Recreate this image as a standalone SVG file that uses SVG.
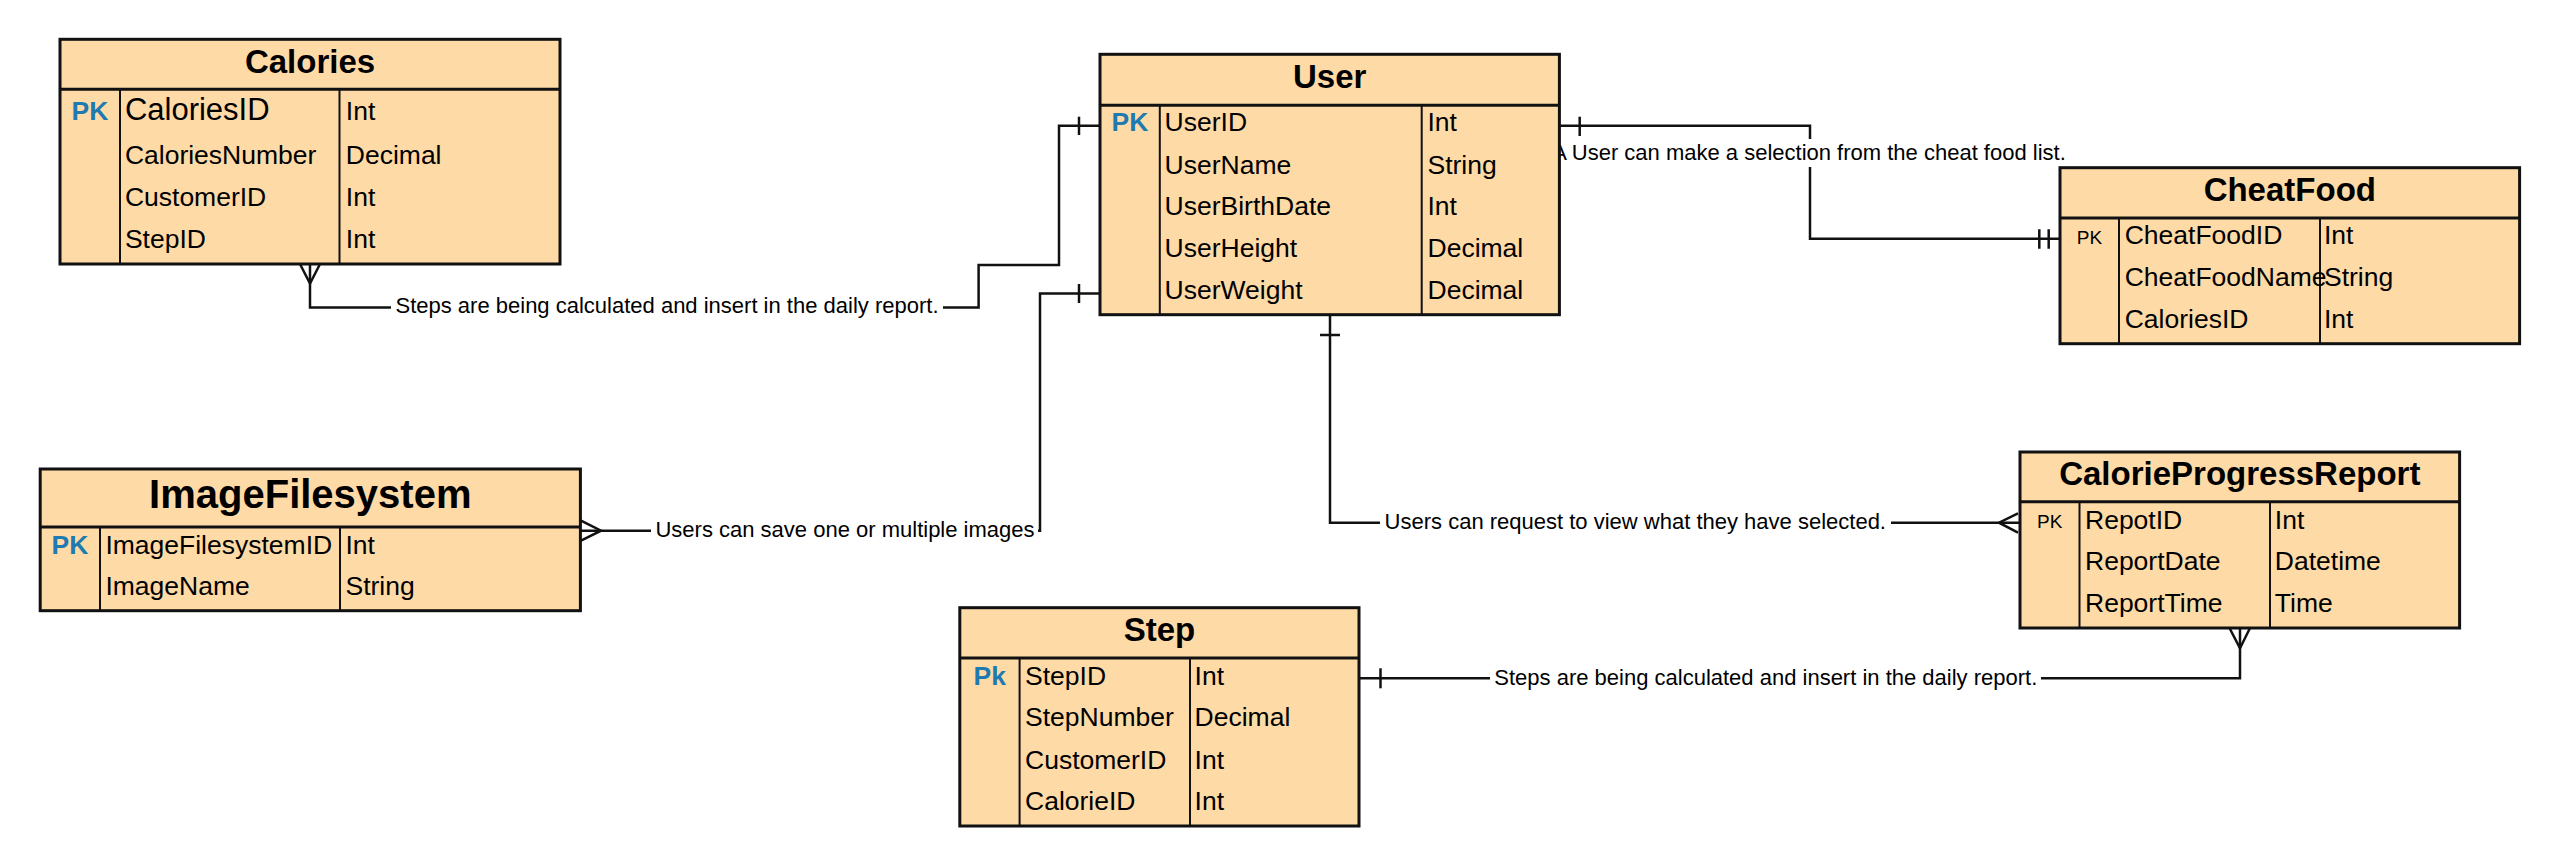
<svg xmlns="http://www.w3.org/2000/svg" width="2560" height="866" viewBox="0 0 2560 866">
<style>
.box{fill:#FEDAA7;stroke:#111;stroke-width:3}
.hd{stroke:#111;stroke-width:3;fill:none}
.dv{stroke:#111;stroke-width:2;fill:none}
.t{font-family:"Liberation Sans",Arial,sans-serif;font-weight:bold;font-size:33px;fill:#000;text-anchor:middle}
.f{font-family:"Liberation Sans",Arial,sans-serif;font-size:26.5px;fill:#000}
.pk{font-family:"Liberation Sans",Arial,sans-serif;font-weight:bold;font-size:26.5px;fill:#1E7AB0;text-anchor:middle}
.pks{font-family:"Liberation Sans",Arial,sans-serif;font-size:19px;fill:#000;text-anchor:middle}
.ln{stroke:#111;stroke-width:2.5;fill:none}
.lb{font-family:"Liberation Sans",Arial,sans-serif;font-size:22px;fill:#000;text-anchor:middle}
.bg{fill:#fff}
</style>
<rect width="2560" height="866" fill="#fff"/>
<g id="connectors">
  <!-- Calories - User -->
  <path class="ln" d="M310,264 L310,307.5 L978.6,307.5 L978.6,265 L1059,265 L1059,125.7 L1100,125.7"/>
  <path class="ln" d="M300,264 L310,283.5 L320,264"/>
  <path class="ln" d="M1079,116.7 V135"/>
  <rect class="bg" x="391" y="294" width="552" height="26"/>
  <text class="lb" x="667" y="313">Steps are being calculated and insert in the daily report.</text>
  <!-- ImageFilesystem - User -->
  <path class="ln" d="M580,530.7 L1040,530.7 L1040,293.5 L1100,293.5"/>
  <path class="ln" d="M581,520.7 L601,530.7 L581,540.7"/>
  <path class="ln" d="M1079,284 V303"/>
  <rect class="bg" x="651" y="516" width="387" height="28"/>
  <text class="lb" x="845" y="536.6">Users can save one or multiple images</text>
  <!-- User - CheatFood -->
  <path class="ln" d="M1559.4,125.7 L1810,125.7 L1810,238.7 L2060,238.7"/>
  <path class="ln" d="M1579.7,116.7 V136"/>
  <path class="ln" d="M2039.3,229.3 V248.7 M2048.7,229.3 V248.7"/>
  <rect class="bg" x="1549" y="139" width="520" height="28"/>
  <text class="lb" x="1809" y="159.6">A User can make a selection from the cheat food list.</text>
  <!-- User - CalorieProgressReport -->
  <path class="ln" d="M1330,314.5 L1330,522.7 L2020,522.7"/>
  <path class="ln" d="M1320,335 H1340"/>
  <path class="ln" d="M2018,513.3 L1999,522.7 L2018,532.7"/>
  <rect class="bg" x="1380" y="508" width="511" height="28"/>
  <text class="lb" x="1635.3" y="528.6">Users can request to view what they have selected.</text>
  <!-- Step - CalorieProgressReport -->
  <path class="ln" d="M1359,678.3 L2240,678.3 L2240,628"/>
  <path class="ln" d="M1380.5,668.3 V688.3"/>
  <path class="ln" d="M2229.5,628 L2240,648.3 L2250,628"/>
  <rect class="bg" x="1490" y="664" width="551" height="28"/>
  <text class="lb" x="1765.8" y="684.6">Steps are being calculated and insert in the daily report.</text>
</g>
<g id="calories">
  <rect class="box" x="60" y="39.3" width="500" height="224.7"/>
  <path class="hd" d="M60,89.3 H560"/>
  <path class="dv" d="M120,89.3 V264 M339.5,89.3 V264"/>
  <text class="t" x="310" y="72.5">Calories</text>
  <text class="pk" x="90" y="119.5">PK</text>
  <text class="f" x="124.9" y="119.5" style="font-size:31px">CaloriesID</text>
  <text class="f" x="345.8" y="119.5">Int</text>
  <text class="f" x="124.9" y="164">CaloriesNumber</text>
  <text class="f" x="345.8" y="164">Decimal</text>
  <text class="f" x="124.9" y="205.5">CustomerID</text>
  <text class="f" x="345.8" y="205.5">Int</text>
  <text class="f" x="124.9" y="247.5">StepID</text>
  <text class="f" x="345.8" y="247.5">Int</text>
</g>
<g id="user">
  <rect class="box" x="1100" y="54.3" width="459.4" height="260.4"/>
  <path class="hd" d="M1100,105.3 H1559.4"/>
  <path class="dv" d="M1159.8,105.3 V314.7 M1421.7,105.3 V314.7"/>
  <text class="t" x="1329.7" y="88">User</text>
  <text class="pk" x="1130" y="131.2">PK</text>
  <text class="f" x="1164.6" y="131.2">UserID</text>
  <text class="f" x="1427.5" y="131.2">Int</text>
  <text class="f" x="1164.6" y="173.5">UserName</text>
  <text class="f" x="1427.5" y="173.5">String</text>
  <text class="f" x="1164.6" y="215.2">UserBirthDate</text>
  <text class="f" x="1427.5" y="215.2">Int</text>
  <text class="f" x="1164.6" y="257.2">UserHeight</text>
  <text class="f" x="1427.5" y="257.2">Decimal</text>
  <text class="f" x="1164.6" y="299.2">UserWeight</text>
  <text class="f" x="1427.5" y="299.2">Decimal</text>
</g>
<g id="cheatfood">
  <rect class="box" x="2060" y="167.7" width="459.6" height="176"/>
  <path class="hd" d="M2060,218 H2519.6"/>
  <path class="dv" d="M2119,218 V343.7 M2320,218 V343.7"/>
  <text class="t" x="2289.8" y="201">CheatFood</text>
  <text class="pks" x="2089.5" y="243.7">PK</text>
  <text class="f" x="2124.7" y="243.8">CheatFoodID</text>
  <text class="f" x="2324" y="243.8">Int</text>
  <text class="f" x="2124.7" y="285.8">CheatFoodName</text>
  <text class="f" x="2324" y="285.8">String</text>
  <text class="f" x="2124.7" y="327.5">CaloriesID</text>
  <text class="f" x="2324" y="327.5">Int</text>
</g>
<g id="imagefilesystem">
  <rect class="box" x="40.2" y="469" width="540.2" height="141.7"/>
  <path class="hd" d="M40.2,527 H580.4"/>
  <path class="dv" d="M100,527 V610.7 M340,527 V610.7"/>
  <text class="t" x="310.3" y="508.3" style="font-size:40px">ImageFilesystem</text>
  <text class="pk" x="70" y="553.8">PK</text>
  <text class="f" x="105.4" y="553.8">ImageFilesystemID</text>
  <text class="f" x="345.5" y="553.8">Int</text>
  <text class="f" x="105.4" y="595.2">ImageName</text>
  <text class="f" x="345.5" y="595.2">String</text>
</g>
<g id="step">
  <rect class="box" x="959.8" y="607.7" width="399.2" height="218.3"/>
  <path class="hd" d="M959.8,658 H1359"/>
  <path class="dv" d="M1019.6,658 V826 M1190,658 V826"/>
  <text class="t" x="1159.4" y="641">Step</text>
  <text class="pk" x="989.8" y="684.5">Pk</text>
  <text class="f" x="1025" y="684.5">StepID</text>
  <text class="f" x="1194.6" y="684.5">Int</text>
  <text class="f" x="1025" y="726.2">StepNumber</text>
  <text class="f" x="1194.6" y="726.2">Decimal</text>
  <text class="f" x="1025" y="768.5">CustomerID</text>
  <text class="f" x="1194.6" y="768.5">Int</text>
  <text class="f" x="1025" y="810.2">CalorieID</text>
  <text class="f" x="1194.6" y="810.2">Int</text>
</g>
<g id="calorieprogressreport">
  <rect class="box" x="2020" y="452" width="439.6" height="176"/>
  <path class="hd" d="M2020,501.7 H2459.6"/>
  <path class="dv" d="M2079.5,501.7 V628 M2270,501.7 V628"/>
  <text class="t" x="2239.8" y="485">CalorieProgressReport</text>
  <text class="pks" x="2049.7" y="528">PK</text>
  <text class="f" x="2085" y="528.5">RepotID</text>
  <text class="f" x="2274.8" y="528.5">Int</text>
  <text class="f" x="2085" y="570.2">ReportDate</text>
  <text class="f" x="2274.8" y="570.2">Datetime</text>
  <text class="f" x="2085" y="611.8">ReportTime</text>
  <text class="f" x="2274.8" y="611.8">Time</text>
</g>
</svg>
